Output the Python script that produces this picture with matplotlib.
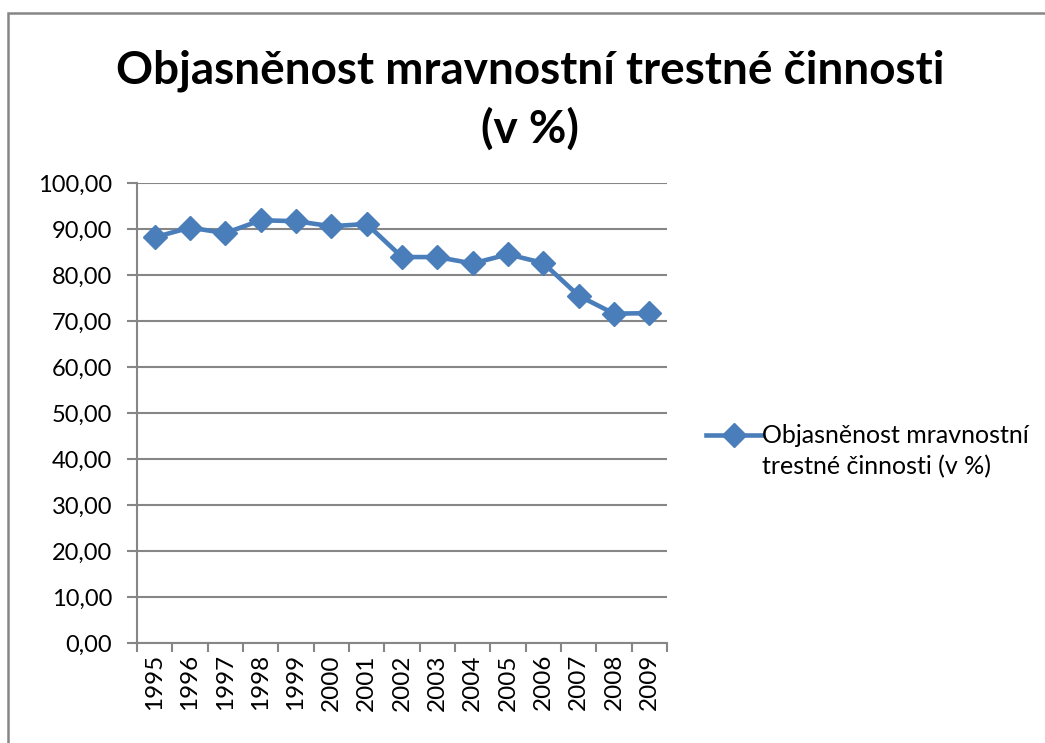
import matplotlib
matplotlib.use("Agg")
import matplotlib.pyplot as plt
from matplotlib.patches import Rectangle
from matplotlib.ticker import FixedLocator, FuncFormatter

years = ["1995", "1996", "1997", "1998", "1999", "2000", "2001", "2002",
         "2003", "2004", "2005", "2006", "2007", "2008", "2009"]
values = [88.2, 90.3, 89.1, 91.9, 91.7, 90.6, 91.1, 83.9,
          83.9, 82.5, 84.5, 82.6, 75.5, 71.6, 71.7]
series_label_lines = ["Objasněnost mravnostní", "trestné činnosti (v %)"]
title = "Objasněnost mravnostní trestné činnosti\n(v %)"
yticks = [0, 10, 20, 30, 40, 50, 60, 70, 80, 90, 100]

plt.rcParams['font.family'] = ['Lato', 'DejaVu Sans']

W, H = 1045, 743
fig = plt.figure(figsize=(W / 100, H / 100), dpi=100)

# outer chart border
fig.patches.append(Rectangle((8 / W, -0.1), 1.2, 1 - 13 / H + 0.1,
                             transform=fig.transFigure, fill=False,
                             edgecolor='#868686', linewidth=1.8))

ax = fig.add_axes([137 / W, 1 - 643 / H, (667 - 137) / W, (643 - 183) / H])
x = list(range(len(years)))
ax.plot(x, values, color='#4A7EBB', linewidth=3.3, marker='D',
        markersize=12, label=series_label_lines[0], solid_joinstyle='round')

ax.set_xlim(-0.5, len(years) - 0.5)
ax.set_ylim(0, 100)
ax.set_xticks(x)
ax.set_xticklabels(years, rotation=90, fontsize=17.5)
ax.xaxis.set_minor_locator(FixedLocator([i - 0.5 for i in range(len(years) + 1)]))
ax.tick_params(axis='x', which='major', length=0, pad=8)
ax.tick_params(axis='x', which='minor', length=6.5, width=1.5, color='#868686', direction='out')
ax.set_yticks(yticks)
ax.yaxis.set_major_formatter(FuncFormatter(lambda v, p: f"{v:.2f}".replace('.', ',')))
ax.tick_params(axis='y', length=7, width=1.5, color='#868686', labelsize=17, pad=11)

ax.grid(axis='y', color='#868686', linewidth=1.5)
ax.set_axisbelow(True)
for s in ['top', 'right']:
    ax.spines[s].set_visible(False)
for s in ['left', 'bottom']:
    ax.spines[s].set_color('#868686')
    ax.spines[s].set_linewidth(1.5)

fig.text(530 / W, 1 - 100 / H, title, ha='center', va='center',
         fontsize=33, fontweight='bold', linespacing=1.45)

leg = fig.legend(loc='center left', bbox_to_anchor=(706 / W, 1 - 436 / H),
                 bbox_transform=fig.transFigure, frameon=False,
                 fontsize=18, handlelength=2.25, handletextpad=0.0,
                 borderaxespad=0, borderpad=0)

fig.canvas.draw()
t0 = leg.get_texts()[0]
bb = t0.get_window_extent(renderer=fig.canvas.get_renderer())
fig.text(bb.x0 / W, (bb.y0 + bb.y1) / 2 / H - 31 / H, series_label_lines[1],
         ha='left', va='center', fontsize=18)

fig.savefig("out.png", dpi=100)
